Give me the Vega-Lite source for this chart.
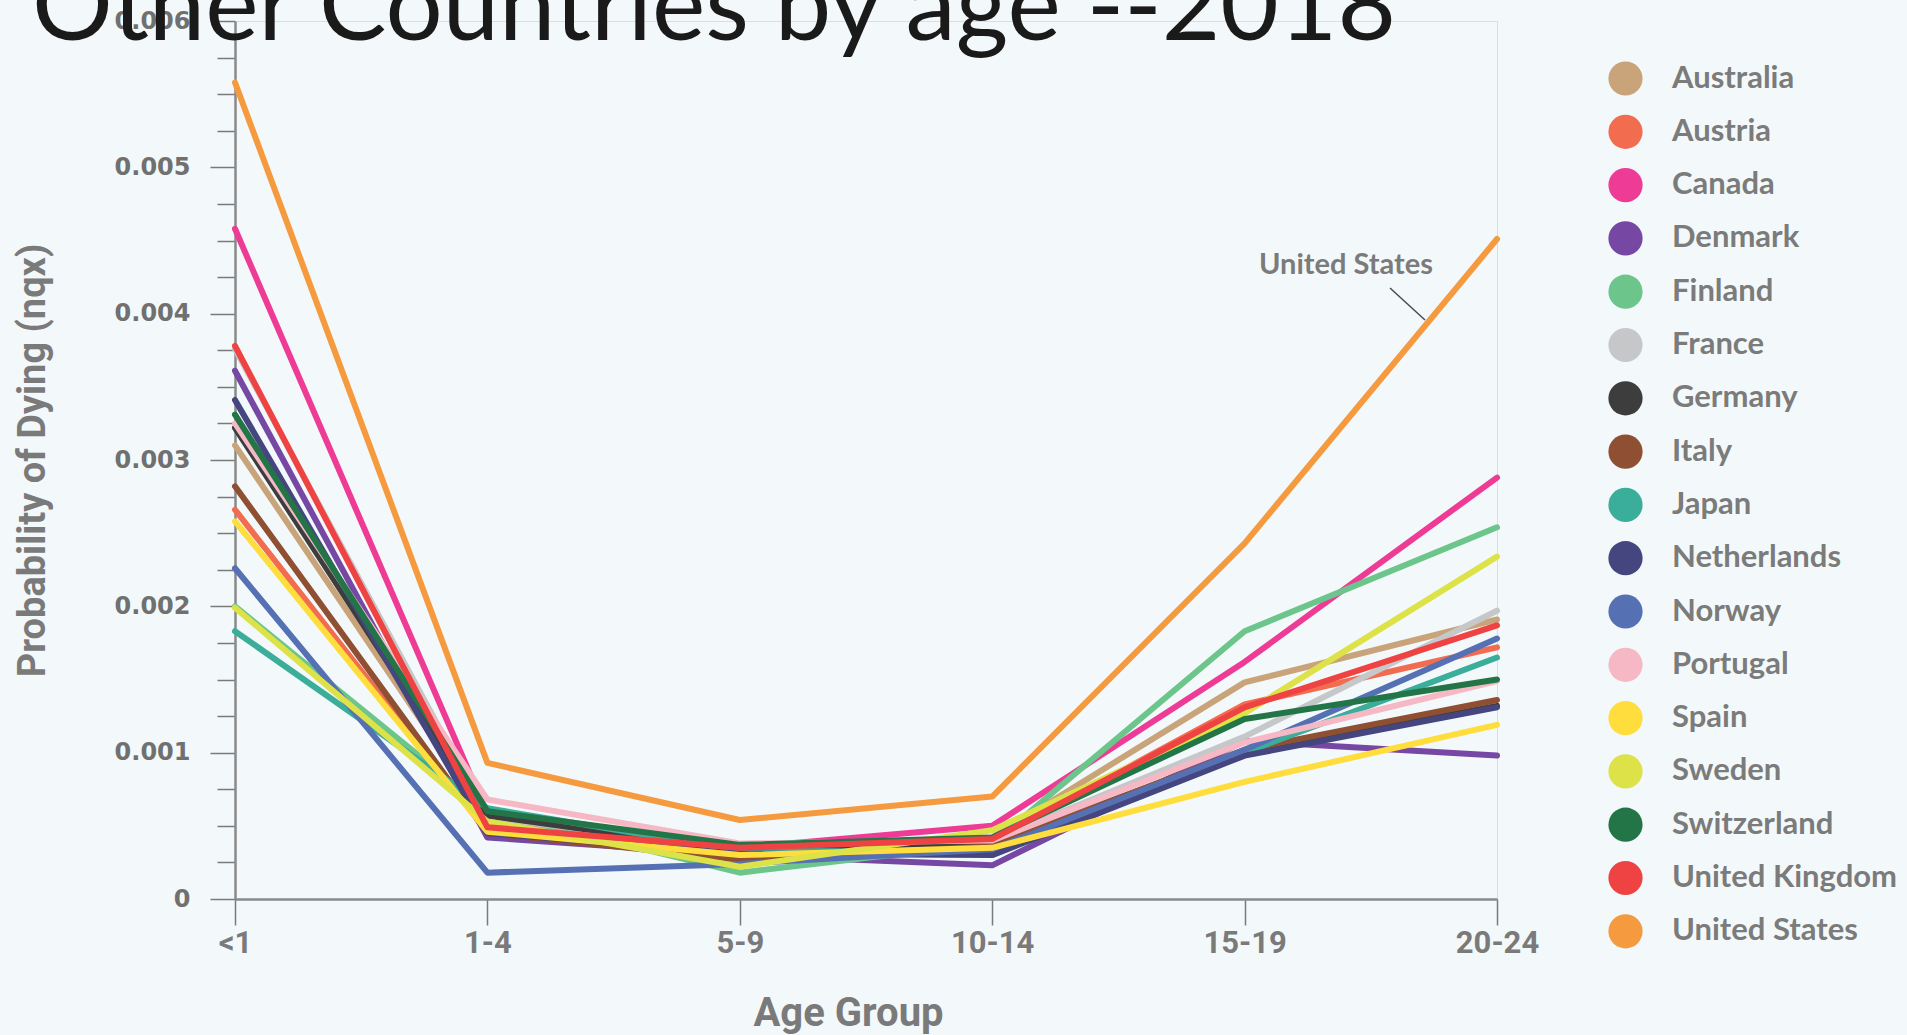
{
  "$schema": "https://vega.github.io/schema/vega-lite/v6.json",
  "width": 1262,
  "height": 878,
  "autosize": {"type": "none"},
  "padding": {"left": 235, "top": 21, "right": 410, "bottom": 136},
  "background": "#f3f9fa",
  "title": {
    "text": "Other Countries by age --2018",
    "anchor": "start",
    "frame": "group",
    "orient": "top",
    "font": "Lato",
    "fontSize": 101,
    "fontWeight": "normal",
    "color": "#1a1a1a",
    "baseline": "alphabetic",
    "offset": -132,
    "dx": -203
  },
  "data": {
    "values": [
      {"Country": "Australia", "<1": 0.00310, "1-4": 0.00055, "5-9": 0.00033, "10-14": 0.00042, "15-19": 0.00148, "20-24": 0.00191},
      {"Country": "Austria", "<1": 0.00266, "1-4": 0.00046, "5-9": 0.00031, "10-14": 0.00040, "15-19": 0.00133, "20-24": 0.00172},
      {"Country": "Canada", "<1": 0.00458, "1-4": 0.00058, "5-9": 0.00035, "10-14": 0.00050, "15-19": 0.00162, "20-24": 0.00288},
      {"Country": "Denmark", "<1": 0.00361, "1-4": 0.00042, "5-9": 0.00030, "10-14": 0.00023, "15-19": 0.00108, "20-24": 0.00098},
      {"Country": "Finland", "<1": 0.00200, "1-4": 0.00060, "5-9": 0.00018, "10-14": 0.00038, "15-19": 0.00183, "20-24": 0.00254},
      {"Country": "France", "<1": 0.00376, "1-4": 0.00056, "5-9": 0.00034, "10-14": 0.00040, "15-19": 0.00111, "20-24": 0.00197},
      {"Country": "Germany", "<1": 0.00322, "1-4": 0.00057, "5-9": 0.00033, "10-14": 0.00038, "15-19": 0.00100, "20-24": 0.00132},
      {"Country": "Italy", "<1": 0.00282, "1-4": 0.00045, "5-9": 0.00027, "10-14": 0.00036, "15-19": 0.00102, "20-24": 0.00136},
      {"Country": "Japan", "<1": 0.00183, "1-4": 0.00062, "5-9": 0.00033, "10-14": 0.00032, "15-19": 0.00100, "20-24": 0.00165},
      {"Country": "Netherlands", "<1": 0.00341, "1-4": 0.00045, "5-9": 0.00031, "10-14": 0.00030, "15-19": 0.00098, "20-24": 0.00131},
      {"Country": "Norway", "<1": 0.00226, "1-4": 0.00018, "5-9": 0.00024, "10-14": 0.00034, "15-19": 0.00102, "20-24": 0.00178},
      {"Country": "Portugal", "<1": 0.00325, "1-4": 0.00068, "5-9": 0.00038, "10-14": 0.00040, "15-19": 0.00107, "20-24": 0.00149},
      {"Country": "Spain", "<1": 0.00258, "1-4": 0.00046, "5-9": 0.00030, "10-14": 0.00035, "15-19": 0.00080, "20-24": 0.00119},
      {"Country": "Sweden", "<1": 0.00199, "1-4": 0.00053, "5-9": 0.00022, "10-14": 0.00047, "15-19": 0.00127, "20-24": 0.00234},
      {"Country": "Switzerland", "<1": 0.00331, "1-4": 0.00060, "5-9": 0.00037, "10-14": 0.00042, "15-19": 0.00123, "20-24": 0.00150},
      {"Country": "United Kingdom", "<1": 0.00378, "1-4": 0.00049, "5-9": 0.00035, "10-14": 0.00041, "15-19": 0.00131, "20-24": 0.00187},
      {"Country": "United States", "<1": 0.00558, "1-4": 0.00093, "5-9": 0.00054, "10-14": 0.00070, "15-19": 0.00243, "20-24": 0.00451}
    ]
  },
  "transform": [
    {"fold": ["<1", "1-4", "5-9", "10-14", "15-19", "20-24"], "as": ["Age Group", "Probability"]}
  ],
  "encoding": {
    "x": {
      "field": "Age Group",
      "type": "ordinal",
      "sort": ["<1", "1-4", "5-9", "10-14", "15-19", "20-24"],
      "scale": {"type": "point", "padding": 0},
      "axis": {
        "title": "Age Group",
        "labelAngle": 0,
        "domainColor": "#8a8a8a",
        "domainWidth": 2.5,
        "tickColor": "#7a7a7a",
        "tickWidth": 1.5,
        "tickSize": 26,
        "labelPadding": 3,
        "labelFont": "Roboto",
        "labelFontSize": 31,
        "labelFontWeight": "bold",
        "labelColor": "#7a7a7a",
        "titleFont": "Roboto",
        "titleFontSize": 40,
        "titleFontWeight": "bold",
        "titleColor": "#7a7a7a",
        "titlePadding": 35,
        "titleX": 613
      }
    },
    "y": {
      "field": "Probability",
      "type": "quantitative",
      "scale": {"domain": [0, 0.006], "nice": false, "zero": true},
      "axis": {
        "title": "Probability of Dying (nqx)",
        "values": [0, 0.00025, 0.0005, 0.00075, 0.001, 0.00125, 0.0015, 0.00175, 0.002, 0.00225, 0.0025, 0.00275, 0.003, 0.00325, 0.0035, 0.00375, 0.004, 0.00425, 0.0045, 0.00475, 0.005, 0.00525, 0.0055, 0.00575, 0.006],
        "labelExpr": "abs(datum.value*1000 - round(datum.value*1000)) < 0.01 ? (datum.value == 0 ? '0' : format(datum.value, '.3f')) : ''",
        "grid": false,
        "domainColor": "#8a8a8a",
        "domainWidth": 2.5,
        "tickColor": "#7a7a7a",
        "tickWidth": 1.5,
        "tickSize": {"condition": {"test": "abs(datum.value*1000 - round(datum.value*1000)) < 0.01", "value": 25}, "value": 18},
        "labelPadding": 20,
        "labelFont": "DejaVu Sans",
        "labelFontSize": 24,
        "labelFontWeight": "bold",
        "labelColor": "#707070",
        "labelOverlap": false,
        "titleFont": "Roboto",
        "titleFontSize": 38,
        "titleFontWeight": "bold",
        "titleColor": "#7a7a7a",
        "titlePadding": 62
      }
    }
  },
  "layer": [
    {
      "mark": {"type": "line", "strokeWidth": 6, "strokeCap": "round", "strokeJoin": "round"},
      "encoding": {
        "color": {
          "field": "Country",
          "type": "nominal",
          "scale": {
            "domain": ["Australia", "Austria", "Canada", "Denmark", "Finland", "France", "Germany", "Italy", "Japan", "Netherlands", "Norway", "Portugal", "Spain", "Sweden", "Switzerland", "United Kingdom", "United States"],
            "range": ["#c9a47a", "#f26c50", "#ee3b96", "#7648a4", "#6cc58b", "#c6c7c9", "#3d3d3d", "#8f4f32", "#3aae9a", "#45457f", "#5670b4", "#f5b8c4", "#fedd3d", "#dde249", "#237548", "#ef4242", "#f59a3f"]
          },
          "legend": {
            "title": null,
            "orient": "none",
            "legendX": 1373,
            "legendY": 40,
            "symbolType": "circle",
            "symbolSize": 1170,
            "rowPadding": 18.3,
            "labelOffset": 29,
            "labelFont": "Lato",
            "labelFontSize": 31,
            "labelFontWeight": "bold",
            "labelColor": "#7b7b7b",
            "labelLimit": 400,
            "encode": {
              "symbols": {
                "update": {
                  "fill": {"scale": "color", "field": "value"},
                  "fillOpacity": {"value": 1},
                  "strokeWidth": {"value": 0}
                }
              }
            }
          }
        },
        "order": {"value": null}
      }
    },
    {
      "transform": [{"filter": "datum.Country === 'United States' && datum['Age Group'] === '20-24'"}],
      "mark": {"type": "text", "text": "United States", "dx": -151, "dy": 26, "font": "Lato", "fontSize": 29, "fontWeight": "bold", "color": "#7b7b7b", "align": "center", "baseline": "middle"}
    },
    {
      "transform": [{"filter": "datum.Country === 'United States' && datum['Age Group'] === '20-24'"}],
      "mark": {"type": "rule", "color": "#4a4a4a", "strokeWidth": 1.5, "xOffset": -107, "x2Offset": -72, "yOffset": 49, "y2Offset": 81},
      "encoding": {
        "x2": {"field": "Age Group"},
        "y2": {"field": "Probability"}
      }
    }
  ]
}
